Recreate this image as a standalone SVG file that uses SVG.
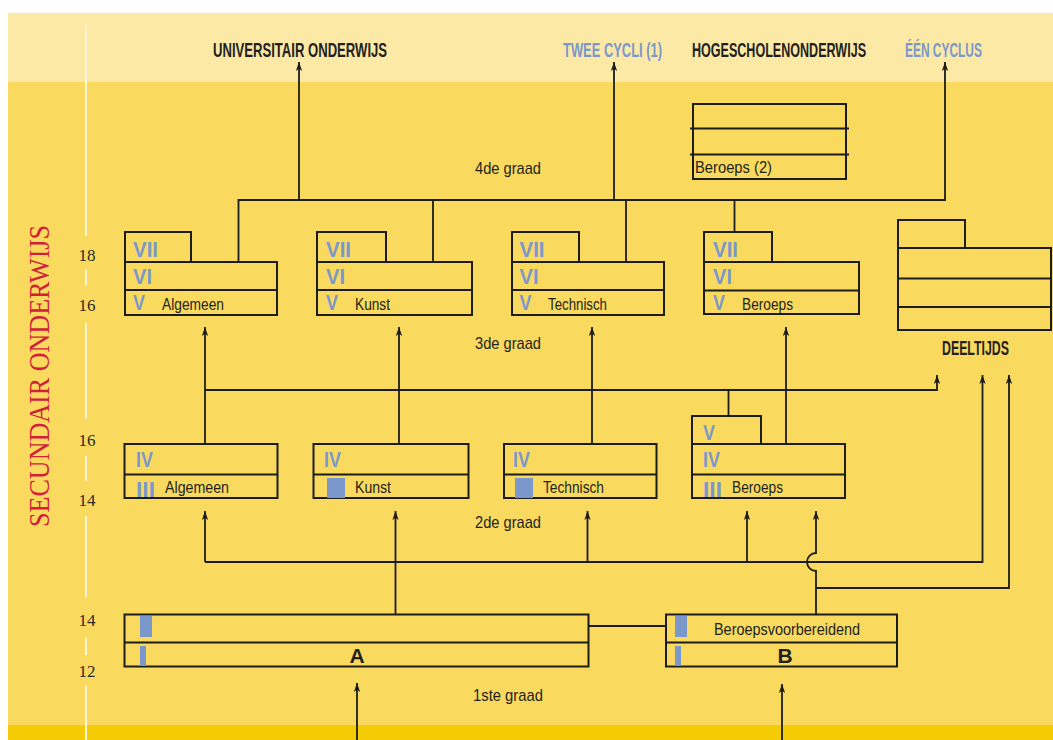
<svg xmlns="http://www.w3.org/2000/svg" width="1053" height="740" viewBox="0 0 1053 740">
<style>
.box{fill:none;stroke:#1c1c1c;stroke-width:2}
.ln{fill:none;stroke:#1c1c1c;stroke-width:1.8}
.num{font-family:"Liberation Sans",Arial,sans-serif;font-weight:bold;font-size:22px;fill:#7b98cc}
.lbl{font-family:"Liberation Sans",Arial,sans-serif;font-size:16px;fill:#231f20}
.hd{font-family:"Liberation Sans",Arial,sans-serif;font-weight:bold;font-size:21px;fill:#231f20}
.hdb{font-family:"Liberation Sans",Arial,sans-serif;font-weight:bold;font-size:21px;fill:#7b98cc}
.gr{font-family:"Liberation Sans",Arial,sans-serif;font-size:17px;fill:#231f20}
.age{font-family:"Liberation Serif","Times New Roman",serif;font-size:17px;fill:#2a2a2a;text-anchor:middle}
.blue{fill:#7b98cc}
.wl{stroke:#fff6d8;stroke-width:2}
</style>
<defs>
<marker id="arr" viewBox="0 0 10 10" refX="10" refY="5" markerWidth="10" markerHeight="9" markerUnits="userSpaceOnUse" orient="auto">
<path d="M0,1.5 L10,5 L0,8.5 L2.5,5 z" fill="#1c1c1c"/>
</marker>
</defs>

<rect x="0" y="0" width="1053" height="740" fill="#ffffff"/>
<rect x="8" y="13" width="1045" height="70" fill="#fde9a6"/>
<rect x="8" y="82" width="1045" height="644" fill="#f9da5f"/>
<rect x="8" y="725" width="1045" height="15" fill="#f5cb05"/>

<g id="axis">
<path class="wl" d="M86,25 V236 M86,270 V285 M86,323 V419 M86,456 V481 M86,516 V597 M86,638 V655 M86,686 V740"/>
<text class="age" x="87" y="261">18</text>
<text class="age" x="87" y="311">16</text>
<text class="age" x="87" y="446">16</text>
<text class="age" x="87" y="506">14</text>
<text class="age" x="87" y="626">14</text>
<text class="age" x="87" y="677">12</text>
<text transform="translate(48.5,376) rotate(-90)" text-anchor="middle" font-family="'Liberation Serif','Times New Roman',serif" font-size="30" fill="#d1203a" textLength="302" lengthAdjust="spacingAndGlyphs">SECUNDAIR ONDERWIJS</text>
</g>

<g id="headings">
<text class="hd" transform="translate(213,57) scale(0.72,1)" textLength="241.7" lengthAdjust="spacingAndGlyphs">UNIVERSITAIR ONDERWIJS</text>
<text class="hdb" transform="translate(563,57) scale(0.72,1)" textLength="137.5" lengthAdjust="spacingAndGlyphs">TWEE CYCLI (1)</text>
<text class="hd" transform="translate(692,57) scale(0.72,1)" textLength="241.7" lengthAdjust="spacingAndGlyphs">HOGESCHOLENONDERWIJS</text>
<text class="hdb" transform="translate(905,57) scale(0.72,1)" textLength="106.9" lengthAdjust="spacingAndGlyphs">ÉÉN CYCLUS</text>
<text class="gr" x="475" y="174" textLength="66" lengthAdjust="spacingAndGlyphs">4de graad</text>
<text class="gr" x="475" y="349" textLength="66" lengthAdjust="spacingAndGlyphs">3de graad</text>
<text class="gr" x="475" y="528" textLength="66" lengthAdjust="spacingAndGlyphs">2de graad</text>
<text class="gr" x="473" y="701" textLength="70" lengthAdjust="spacingAndGlyphs">1ste graad</text>
</g>

<g id="connectors">
<path class="ln" d="M299,200 V62" marker-end="url(#arr)"/>
<path class="ln" d="M614,200 V62" marker-end="url(#arr)"/>
<path class="ln" d="M238.5,262 V200 H945 V62" marker-end="url(#arr)"/>
<path class="ln" d="M433,200 V262 M626,200 V262 M734.5,200 V232"/>
<path class="ln" d="M205,444 V327" marker-end="url(#arr)"/>
<path class="ln" d="M399,444 V327" marker-end="url(#arr)"/>
<path class="ln" d="M592,444 V327" marker-end="url(#arr)"/>
<path class="ln" d="M786,444 V327" marker-end="url(#arr)"/>
<path class="ln" d="M205,390 H937 V375" marker-end="url(#arr)"/>
<path class="ln" d="M728.5,390 V416"/>
<path class="ln" d="M205,562 V511" marker-end="url(#arr)"/>
<path class="ln" d="M205,562 H982.5 V375" marker-end="url(#arr)"/>
<path class="ln" d="M395.5,615 V511" marker-end="url(#arr)"/>
<path class="ln" d="M587.5,562 V511" marker-end="url(#arr)"/>
<path class="ln" d="M747,562 V511" marker-end="url(#arr)" stroke-width="1.4"/>
<path class="ln" d="M816,615 V571 A9,9 0 0 1 816,553 V511" marker-end="url(#arr)"/>
<path class="ln" d="M816,588 H1009 V375" marker-end="url(#arr)"/>
<path class="ln" d="M588,626 H666"/>
<path class="ln" d="M357,740 V683" marker-end="url(#arr)"/>
<path class="ln" d="M782,740 V684" marker-end="url(#arr)"/>
</g>

<g id="hogeschool-beroeps">
<rect class="box" x="693" y="104" width="153" height="75"/>
<path class="box" d="M690,128.5 H849 M690,154.5 H849"/>
<text class="lbl" x="695" y="173" textLength="77" lengthAdjust="spacingAndGlyphs">Beroeps (2)</text>
</g>

<g id="g3-algemeen">
<rect class="box" x="125" y="232" width="66" height="30"/>
<rect class="box" x="125" y="262" width="152" height="53"/>
<path class="box" d="M125,290 H277"/>
<text class="num" x="133" y="257" textLength="25" lengthAdjust="spacingAndGlyphs">VII</text>
<text class="num" x="133" y="284" textLength="19" lengthAdjust="spacingAndGlyphs">VI</text>
<text class="num" x="133" y="310" textLength="12" lengthAdjust="spacingAndGlyphs">V</text>
<text class="lbl" x="162" y="310" textLength="62" lengthAdjust="spacingAndGlyphs">Algemeen</text>
</g>

<g id="g3-kunst">
<rect class="box" x="317" y="232" width="69" height="30"/>
<rect class="box" x="317" y="262" width="155" height="53"/>
<path class="box" d="M317,290 H472"/>
<text class="num" x="326" y="257" textLength="25" lengthAdjust="spacingAndGlyphs">VII</text>
<text class="num" x="326" y="284" textLength="19" lengthAdjust="spacingAndGlyphs">VI</text>
<text class="num" x="326" y="310" textLength="12" lengthAdjust="spacingAndGlyphs">V</text>
<text class="lbl" x="355" y="310" textLength="35" lengthAdjust="spacingAndGlyphs">Kunst</text>
</g>

<g id="g3-technisch">
<rect class="box" x="512" y="232" width="67" height="30"/>
<rect class="box" x="512" y="262" width="152" height="53"/>
<path class="box" d="M512,290 H664"/>
<text class="num" x="519.5" y="257" textLength="25" lengthAdjust="spacingAndGlyphs">VII</text>
<text class="num" x="519.5" y="284" textLength="19" lengthAdjust="spacingAndGlyphs">VI</text>
<text class="num" x="519.5" y="310" textLength="12" lengthAdjust="spacingAndGlyphs">V</text>
<text class="lbl" x="548" y="310" textLength="59" lengthAdjust="spacingAndGlyphs">Technisch</text>
</g>

<g id="g3-beroeps">
<rect class="box" x="704" y="232" width="68" height="30"/>
<rect class="box" x="704" y="262" width="155" height="52"/>
<path class="box" d="M704,290.5 H859"/>
<text class="num" x="713" y="257" textLength="25" lengthAdjust="spacingAndGlyphs">VII</text>
<text class="num" x="713" y="284" textLength="19" lengthAdjust="spacingAndGlyphs">VI</text>
<text class="num" x="713" y="310" textLength="12" lengthAdjust="spacingAndGlyphs">V</text>
<text class="lbl" x="742" y="310" textLength="51" lengthAdjust="spacingAndGlyphs">Beroeps</text>
</g>

<g id="deeltijds">
<rect class="box" x="898" y="220" width="67" height="28"/>
<rect class="box" x="898" y="248" width="153" height="82"/>
<path class="box" d="M898,278.5 H1051 M898,307 H1051"/>
<text class="hd" transform="translate(942,355) scale(0.72,1)" textLength="93" lengthAdjust="spacingAndGlyphs">DEELTIJDS</text>
</g>

<g id="g2-algemeen">
<rect class="box" x="124.5" y="444" width="153" height="54"/>
<path class="box" d="M124.5,474.5 H277.5"/>
<text class="num" x="136" y="467" textLength="17" lengthAdjust="spacingAndGlyphs">IV</text>
<text class="num" x="136" y="497" textLength="19" lengthAdjust="spacingAndGlyphs">III</text>
<text class="lbl" x="165" y="493" textLength="64" lengthAdjust="spacingAndGlyphs">Algemeen</text>
</g>

<g id="g2-kunst">
<rect class="box" x="313.5" y="444" width="155" height="54"/>
<path class="box" d="M313.5,474.5 H468.5"/>
<text class="num" x="324" y="467" textLength="17" lengthAdjust="spacingAndGlyphs">IV</text>
<rect class="blue" x="327" y="478" width="18" height="20"/>
<text class="lbl" x="355" y="493" textLength="36" lengthAdjust="spacingAndGlyphs">Kunst</text>
</g>

<g id="g2-technisch">
<rect class="box" x="504" y="444" width="152.5" height="54"/>
<path class="box" d="M504,474.5 H656.5"/>
<text class="num" x="513" y="467" textLength="17" lengthAdjust="spacingAndGlyphs">IV</text>
<rect class="blue" x="515" y="478" width="18" height="20"/>
<text class="lbl" x="543" y="493" textLength="61" lengthAdjust="spacingAndGlyphs">Technisch</text>
</g>

<g id="g2-beroeps">
<rect class="box" x="692" y="416" width="69" height="28"/>
<rect class="box" x="692" y="444" width="153" height="54"/>
<path class="box" d="M692,474.5 H845"/>
<text class="num" x="703" y="440" textLength="12" lengthAdjust="spacingAndGlyphs">V</text>
<text class="num" x="703" y="467" textLength="17" lengthAdjust="spacingAndGlyphs">IV</text>
<text class="num" x="703" y="497" textLength="19" lengthAdjust="spacingAndGlyphs">III</text>
<text class="lbl" x="732" y="493" textLength="51" lengthAdjust="spacingAndGlyphs">Beroeps</text>
</g>

<g id="g1-a">
<rect class="box" x="124.5" y="614.5" width="464" height="52"/>
<path class="box" d="M124.5,642.5 H588.5"/>
<rect class="blue" x="140" y="616" width="12" height="21"/>
<rect class="blue" x="140" y="646" width="6" height="20"/>
<text class="hd" x="357" y="663" text-anchor="middle">A</text>
</g>

<g id="g1-b">
<rect class="box" x="666" y="614.5" width="231" height="52"/>
<path class="box" d="M666,642.5 H897"/>
<rect class="blue" x="675" y="616" width="12" height="21"/>
<rect class="blue" x="675" y="646" width="6" height="20"/>
<text class="lbl" x="714" y="635" textLength="146" lengthAdjust="spacingAndGlyphs">Beroepsvoorbereidend</text>
<text class="hd" x="785" y="663" text-anchor="middle">B</text>
</g>
</svg>
